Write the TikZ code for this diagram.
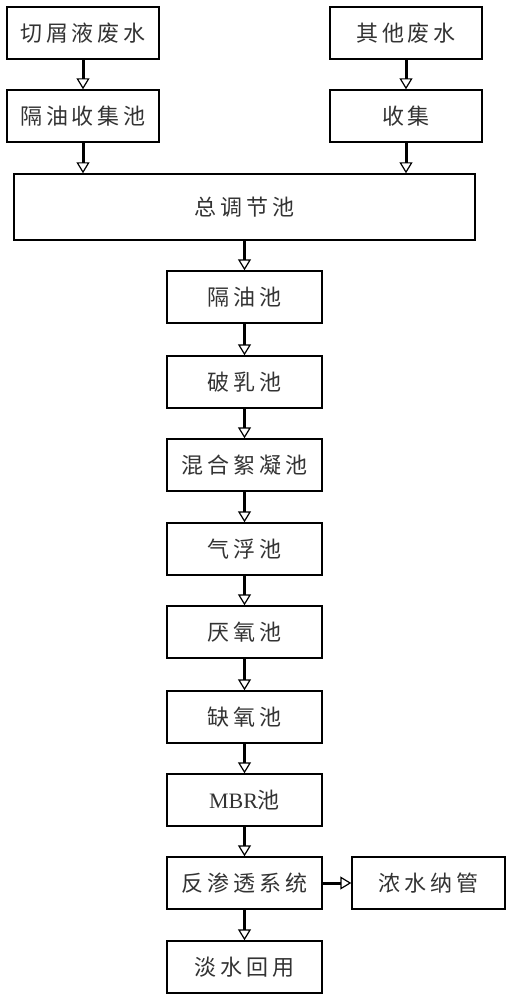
\documentclass[tikz,border=0pt]{standalone}
\usepackage{fontspec}
\setmainfont{Liberation Serif}
\newfontfamily\cjk[LetterSpace=18]{Noto Sans CJK SC}
\usetikzlibrary{arrows.meta}
\tikzset{
	pool/.style={draw, line width=0.7pt, minimum width=77.5pt, minimum height=26pt, inner sep=0pt,
		font=\cjk\fontsize{11}{13}\selectfont, text=black!80},
	flow/.style={line width=1.5pt, -{Triangle[open, width=6.5pt, length=5.5pt, line width=0.6pt]}}
}

\begin{document}
\begin{tikzpicture}[x=0.5pt, y=-0.5pt]
			%%%%% START %%%%%
			\useasboundingbox (0, 0) rectangle (512, 1000);
			
			\node[pool, minimum width=76pt] (cut) at (83, 33) {切屑液废水};
			\node[pool, minimum width=76pt] (other) at (406, 33) {其他废水};
			\node[pool, minimum width=76pt] (oilcol) at (83, 116) {隔油收集池};
			\node[pool, minimum width=76pt] (col) at (406, 116) {收集};
			
			\node[pool, minimum width=230.5pt, minimum height=33pt] (eq) at (244.5, 207) {总调节池};
			
			\node[pool] (oil) at (244.5, 297) {隔油池};
			\node[pool] (demul) at (244.5, 382) {破乳池};
			\node[pool] (floc) at (244.5, 465) {混合絮凝池};
			\node[pool] (float) at (244.5, 549) {气浮池};
			\node[pool] (anae) at (244.5, 632) {厌氧池};
			\node[pool] (anox) at (244.5, 717) {缺氧池};
			\node[pool] (mbr) at (244.5, 800) {{\rmfamily\addfontfeatures{LetterSpace=0}MBR}池};
			\node[pool] (ro) at (244.5, 883) {反渗透系统};
			\node[pool] (fresh) at (244.5, 967) {淡水回用};
			\node[pool, minimum width=76.5pt] (conc) at (428.5, 883) {浓水纳管};
			
			\draw[flow] (cut) -- (oilcol);
			\draw[flow] (other) -- (col);
			\draw[flow] (oilcol) -- (oilcol |- eq.north);
			\draw[flow] (col) -- (col |- eq.north);
			
			\draw[flow] (eq) -- (oil);
			\draw[flow] (oil) -- (demul);
			\draw[flow] (demul) -- (floc);
			\draw[flow] (floc) -- (float);
			\draw[flow] (float) -- (anae);
			\draw[flow] (anae) -- (anox);
			\draw[flow] (anox) -- (mbr);
			\draw[flow] (mbr) -- (ro);
			\draw[flow] (ro) -- (fresh);
			\draw[flow] (ro) -- (conc);
			
			%%%%% END %%%%%
\end{tikzpicture}
\end{document}
